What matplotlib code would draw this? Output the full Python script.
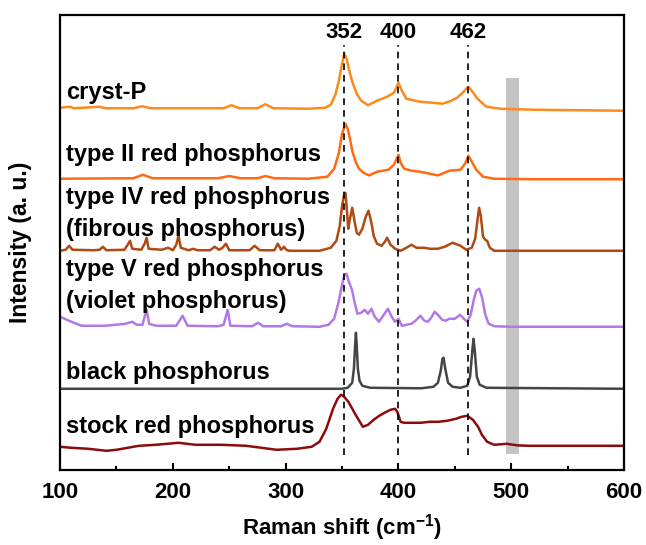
import matplotlib
matplotlib.use("Agg")
import matplotlib.pyplot as plt
from matplotlib.ticker import MultipleLocator

plt.rcParams['font.family'] = ['Liberation Sans', 'DejaVu Sans']
plt.rcParams['font.weight'] = 'bold'
plt.rcParams['mathtext.fontset'] = 'custom'
plt.rcParams['mathtext.rm'] = 'Liberation Sans:bold'
plt.rcParams['mathtext.bf'] = 'Liberation Sans:bold'
plt.rcParams['mathtext.default'] = 'bf'

# spectra: shift (cm-1) and intensity above each baseline
cryst_x = [100, 109, 112, 120, 135, 140, 165, 173, 180, 200, 245, 252, 259, 275, 282, 289,
           320, 335, 340, 344, 347, 350, 352, 354, 356, 359, 363, 367, 373, 381, 390, 396,
           400, 403, 407, 419, 430, 439, 447, 452, 457, 460, 462, 465, 470, 478, 490, 520,
           560, 600]
cryst_y = [1, 2, 0.5, 1, 2, 0.5, 0.5, 2.5, 0.5, 0.5, 0.5, 3.5, 0.5, 0.5, 4.5, 0.5,
           0, 1, 4, 14, 27, 45, 55, 50, 40, 27, 15, 8, 3.5, 8, 12, 16,
           26, 18, 10, 7, 6, 5, 8, 11, 16, 20, 22, 18, 10, 2, 0, -1,
           -1.5, -2]

type2_x = [100, 165, 173.5, 182, 240, 250, 260, 275, 282, 290, 320, 337, 343, 347, 350,
           353, 355, 357, 359, 362, 365, 369, 374, 381, 391, 396, 400, 402, 405, 412, 419,
           428, 435, 445, 455, 459, 462, 465, 469, 475, 485, 520, 600]
type2_y = [0, 0.5, 4, 0.5, 0.5, 2.7, 0.5, 0.5, 2.7, 0.5, 0, 2, 10, 25, 45,
           55, 50, 40, 28, 17, 10, 6, 3.3, 7, 9, 14, 24, 16, 10, 8, 7,
           5, 3.3, 8, 9, 15, 23, 17, 9, 2, 0, -0.5, -0.5]

type4_x = [100, 105, 108, 111, 130, 135, 138, 141, 157, 160, 162, 164, 172, 175, 176.7,
           178.5, 190, 195.8, 200, 203, 205, 207, 214, 218, 222, 233, 237, 241, 244, 247,
           250, 268, 272.5, 277, 290, 293, 296, 298.5, 300.5, 303, 330, 340, 345, 348, 350,
           352, 353, 354, 355.5, 357, 359, 361, 363, 365, 368, 371, 373.5, 376, 378, 381,
           385, 388, 390, 393, 397, 402, 407, 411.5, 416, 422.7, 428, 435, 441, 448, 455,
           460, 465, 468, 470, 471.5, 473, 475, 477, 478.6, 481, 485, 500, 600]
type4_y = [0, 1, 5, 1, 0.5, 1, 4, 0.5, 1, 6, 10, 2, 1, 7, 13,
           2, 1, 3, 0.5, 6, 15, 3, 0.5, 2, 0.5, 0.5, 4, 1, 3, 7,
           0.5, 0.5, 5, 0.5, 0.5, 7, 1, 4, 1, 0, 0, 3, 10, 25, 45,
           57, 58, 45, 22, 32, 43, 30, 18, 16, 22, 34, 40, 28, 15, 7,
           5, 9, 13, 6, 2, 0, 3, 6, 3, 3, 2, 2, 4, 8, 5,
           1, 3, 12, 30, 43, 35, 14, 11, 10, 3, 0, 0, 0]

type5_x = [100, 104, 110, 119, 140, 158, 164, 168, 173, 176.7, 179, 185, 203, 208.6, 213,
           240, 245, 248.6, 251, 270, 275.7, 280, 296, 301, 306, 330, 338, 343, 347, 350,
           352, 354, 356, 358.8, 361, 363.6, 367, 370, 373, 376, 379, 382.7, 387, 390.7,
           394, 397, 400, 403, 407, 411.5, 415, 419.5, 423, 426, 429, 432, 435, 438.7, 442,
           445, 450, 454.6, 458, 461, 464, 467, 469, 471.6, 474, 477, 480, 485, 500, 600]
type5_y = [10, 8, 5, 1, 1, 3, 5, 2, 2, 17, 3, 1, 1, 11, 1,
           0.5, 2, 17, 1, 0.5, 4, 0.5, 0.5, 3, 0.5, 0, 2, 8, 25, 42,
           52, 53, 45, 37, 25, 13, 14, 17, 13, 18, 10, 5, 12, 18,
           10, 5, 8, 1, 2, 3, 6, 11, 6, 5, 9, 15, 12, 7, 6,
           8, 8, 12, 8, 5, 12, 28, 36, 38, 30, 12, 3, 0.5, 0, 0]

black_x = [100, 300, 350, 355, 359, 360.5, 361.5, 362.3, 363, 364, 365.5, 368, 375, 420,
           431, 435, 437.5, 439, 440, 441.5, 444, 448, 455, 461, 463.5, 465.5, 466.5,
           467.5, 469.5, 472, 478, 600]
black_y = [0, 0, 0, 1, 6, 20, 42, 56, 44, 20, 8, 3, 1, 0.5,
           2, 6, 18, 30, 31, 20, 6, 2, 1, 3, 12, 38, 50,
           40, 12, 4, 1, 0]

stock_x = [100, 110, 125, 141, 150, 160, 170, 185, 205, 220, 243, 265, 292, 310, 323, 330,
           336, 342, 346, 349, 351, 355.6, 362, 368.4, 373, 378, 383, 387.6, 393, 397, 399,
           401.9, 405, 412, 419.5, 428, 435.5, 443, 451, 456, 461, 466, 470.6, 474, 478.6,
           485, 496, 505, 515, 560, 600]
stock_y = [0, -1, -2, -4, -3, -1, 1, 2, 4, 2, 2, 1, -3, -2, 0, 5,
           18, 38, 48, 52, 51, 45, 32, 20, 22, 27, 31, 34, 37, 38, 35,
           25, 24, 24, 24, 25, 25, 26, 28, 30, 31, 27, 20, 12, 5,
           2, 3, 1.5, 1, 1, 1]

series = [
    ("cryst-P", cryst_x, cryst_y, 361, "#ff8a1c"),
    ("type II", type2_x, type2_y, 291, "#ff6a12"),
    ("type IV", type4_x, type4_y, 219, "#b04a12"),
    ("type V", type5_x, type5_y, 143, "#b278e6"),
    ("black", black_x, black_y, 81, "#454545"),
    ("stock", stock_x, stock_y, 23, "#8c0b0b"),
]

labels = ["cryst-P", "type II red phosphorus", "type IV red phosphorus",
          "(fibrous phosphorus)", "type V red phosphorus", "(violet phosphorus)",
          "black phosphorus", "stock red phosphorus"]
label_y = [377, 315, 272, 240, 200, 168, 97, 43]

peaks = [352, 400, 462]

fig = plt.figure(figsize=(6.46, 5.45), dpi=100)
ax = fig.add_axes([0.093, 0.138, 0.873, 0.835])

# grey band near 500
ax.fill_between([495, 507], 16, 392, color="#c4c4c4", lw=0, zorder=1)

for p in peaks:
    ax.plot([p, p], [15, 425], color="black", lw=1.2, ls=(0, (4, 3)), zorder=3)
    ax.text(p, 437, str(p), ha="center", va="center", fontsize=16, fontweight="bold")

for name, xs, ys, off, c in series:
    ax.plot(xs, [v + off for v in ys], color=c, lw=1.8, zorder=2)

for t, y in zip(labels, label_y):
    ax.text(105, y, t, ha="left", va="center", fontsize=17, fontweight="bold")

ax.set_xlim(100, 600)
ax.set_ylim(0, 455)
ax.set_yticks([])
ax.xaxis.set_major_locator(MultipleLocator(100))
ax.xaxis.set_minor_locator(MultipleLocator(50))
ax.tick_params(axis="x", which="major", direction="in", length=5, width=1.5,
               labelsize=16, pad=9)
ax.tick_params(axis="x", which="minor", direction="in", length=3, width=1.5)
for lab in ax.get_xticklabels():
    lab.set_fontweight("bold")
for s in ax.spines.values():
    s.set_linewidth(1.6)

ax.set_xlabel("Raman shift (cm$^{-1}$)", fontsize=16, fontweight="bold", labelpad=6)
ax.set_ylabel("Intensity (a. u.)", fontsize=16.5, fontweight="bold", labelpad=20)

fig.savefig("out.png", dpi=100)
